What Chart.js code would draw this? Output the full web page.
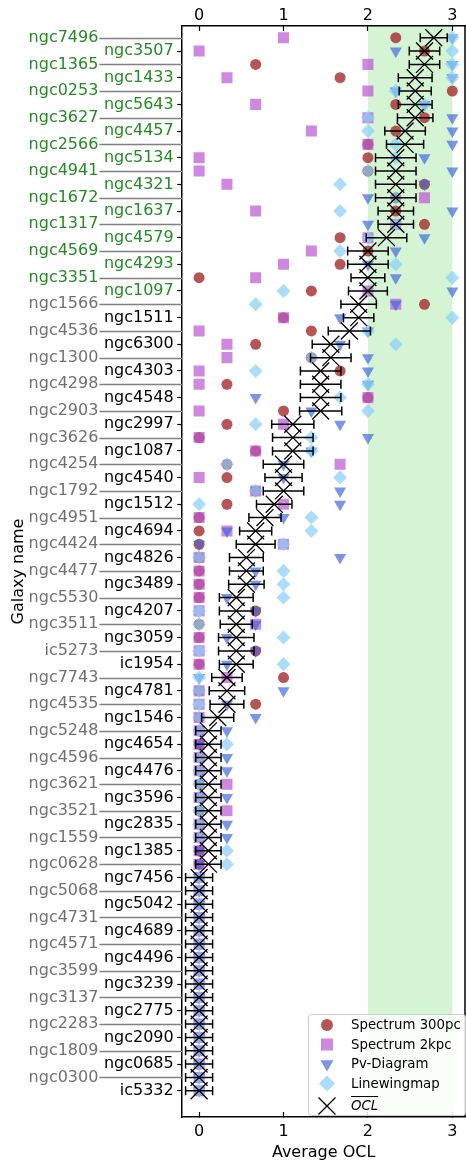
<!DOCTYPE html>
<html>
<head>
<meta charset="utf-8">
<script src="https://cdn.jsdelivr.net/npm/chart.js@4.4.1/dist/chart.umd.min.js"></script>
<style>
html, body { margin: 0; padding: 0; background: #fff; overflow: hidden; }
#wrap { width: 466px; height: 1162px; position: relative; }
canvas { display: block; }
</style>
</head>
<body>
<div id="wrap"><canvas id="oclchart"></canvas></div>
<script>
// galaxies, top to bottom (left/right label columns alternate)
const galaxies = ['ngc7496','ngc3507','ngc1365','ngc1433','ngc0253','ngc5643','ngc3627','ngc4457','ngc2566','ngc5134',
  'ngc4941','ngc4321','ngc1672','ngc1637','ngc1317','ngc4579','ngc4569','ngc4293','ngc3351','ngc1097',
  'ngc1566','ngc1511','ngc4536','ngc6300','ngc1300','ngc4303','ngc4298','ngc4548','ngc2903','ngc2997',
  'ngc3626','ngc1087','ngc4254','ngc4540','ngc1792','ngc1512','ngc4951','ngc4694','ngc4424','ngc4826',
  'ngc4477','ngc3489','ngc5530','ngc4207','ngc3511','ngc3059','ic5273','ic1954','ngc7743','ngc4781',
  'ngc4535','ngc1546','ngc5248','ngc4654','ngc4596','ngc4476','ngc3621','ngc3596','ngc3521','ngc2835',
  'ngc1559','ngc1385','ngc0628','ngc7456','ngc5068','ngc5042','ngc4731','ngc4689','ngc4571','ngc4496',
  'ngc3599','ngc3239','ngc3137','ngc2775','ngc2283','ngc2090','ngc1809','ngc0685','ngc0300','ic5332'];
const nOutflow = 20; // top rows with OCL >= 2 (green labels)

const spec300 = [2.33,2.67,0.67,1.67,3,2.33,2.67,2.33,2,2,
  2,2.67,2.33,2.33,2.67,1.67,2,1.67,0,1.33,
  2.67,1,1.33,0.67,1.33,1.67,0.33,2,1,0.33,
  0,0.67,0.33,0.33,0.67,0.33,0,0,0,0,
  0,0,0,0.67,0,0,0.67,0,1,0,
  0.67,0,0,0,0,0,0,0,0,0,
  0,0,0,0,0,0,0,0,0,0,
  0,0,0,0,0,0,0,0,0,0];
const spec2kpc = [1,0,2,0.33,2,0.67,2,1.33,2,0,
  0,0.33,2.67,0.67,2.33,2,1.33,1,0.67,2,
  2.33,1,0,0.33,0.33,0,0,2,0,1,
  0,0.67,1.67,0,0.67,1,0,0.33,1,0,
  0,0,0,0,0.67,0,0,0,0.33,0,
  0,0,0,0,0,0,0.33,0,0.33,0,
  0,0,0,0,0,0,0,0,0,0,
  0,0,0,0,0,0,0,0,0,0];
const pvDiagram = [3,2.33,3,3,2.33,2.67,3,3,3,2.67,
  3,2.67,2,3,2,2.67,2.33,2,2.33,3,
  2.33,1.67,2,1.67,2,2,2,0.67,1.33,1.67,
  2,1.33,1,1,1.67,1.67,1,0.33,0,1.67,
  0.67,0.67,0.33,0.67,0.67,0.33,0.67,0.33,0,1,
  0.33,0.67,0.33,0,0.33,0.33,0,0.33,0,0.33,
  0.33,0,0,0,0,0,0,0,0,0,
  0,0,0,0,0,0,0,0,0,0];
const lineWing = [3,3,3,3,2.33,2.67,2,2,2.33,2.33,
  2,1.67,2.33,1.67,2.33,2,1.67,2.33,3,1,
  0.67,3,2,2.33,1.33,0.67,2,1.67,2,0.67,
  1.33,1.33,0.33,1.67,0.67,0,1.33,1.33,1,0,
  1,1,1,0,0,1,0,1,0,0,
  0,0,0,0.33,0,0,0,0,0,0,
  0,0.33,0.33,0,0,0,0,0,0,0,
  0,0,0,0,0,0,0,0,0,0];
const oclMean = [2.78,2.67,2.67,2.56,2.56,2.56,2.56,2.44,2.44,2.33,
  2.33,2.33,2.33,2.33,2.33,2.22,2,2,2,2,
  1.89,1.89,1.78,1.56,1.56,1.44,1.44,1.44,1.44,1.11,
  1.11,1.11,1,1,1,0.89,0.78,0.67,0.67,0.56,
  0.56,0.56,0.44,0.44,0.44,0.44,0.44,0.44,0.33,0.33,
  0.33,0.22,0.11,0.11,0.11,0.11,0.11,0.11,0.11,0.11,
  0.11,0.11,0.11,0,0,0,0,0,0,0,
  0,0,0,0,0,0,0,0,0,0];
const oclErr = [0.16,0.18,0.18,0.2,0.19,0.2,0.21,0.24,0.22,0.24,
  0.24,0.24,0.24,0.21,0.21,0.24,0.24,0.24,0.2,0.23,
  0.21,0.18,0.25,0.22,0.24,0.24,0.24,0.24,0.25,0.25,
  0.24,0.24,0.24,0.22,0.24,0.21,0.19,0.19,0.23,0.2,
  0.2,0.21,0.2,0.2,0.19,0.21,0.21,0.2,0.18,0.21,
  0.2,0.19,0.15,0.15,0.15,0.15,0.15,0.15,0.15,0.15,
  0.15,0.15,0.15,0.16,0.16,0.16,0.16,0.16,0.16,0.16,
  0.16,0.16,0.16,0.16,0.16,0.16,0.16,0.16,0.16,0.16];
const xTicks = [0, 1, 2, 3];

const font = { family: 'DejaVu Sans', size: 16 };
Chart.defaults.font.family = 'DejaVu Sans';

const pts = arr => arr.map((v, i) => ({ x: v, y: i }));
const labelColor = (i, rightCol) => i < nOutflow ? '#228b22' : (rightCol ? '#000' : '#707070');

const errLine = [];
const errCaps = [];
oclMean.forEach((m, i) => {
  errLine.push({ x: m - oclErr[i], y: i }, { x: m + oclErr[i], y: i }, { x: null, y: null });
  errCaps.push({ x: m - oclErr[i], y: i }, { x: m + oclErr[i], y: i });
});

// fixed heights for the x axes, no side padding from their labels
const fitX = h => axis => {
  axis.height = h;
  axis.paddingLeft = 0;
  axis.paddingRight = 0;
};

// green band, frame, grey leader lines
const decor = {
  id: 'decor',
  beforeDraw(chart) {
    const { ctx, chartArea, scales } = chart;
    const x0 = scales.x.getPixelForValue(2), x1 = scales.x.getPixelForValue(3);
    ctx.save();
    ctx.fillStyle = '#d4f4d4';
    ctx.fillRect(x0, chartArea.top, x1 - x0, chartArea.bottom - chartArea.top);
    ctx.restore();
  },
  afterDraw(chart) {
    const { ctx, chartArea, scales } = chart;
    ctx.save();
    ctx.strokeStyle = '#808080';
    ctx.lineWidth = 1.5;
    galaxies.forEach((g, i) => {
      if (i % 2) return;
      const y = Math.round(scales.y.getPixelForValue(i)) + 0.5;
      ctx.beginPath();
      ctx.moveTo(scales.y2.right - 1, y);
      ctx.lineTo(chartArea.left, y);
      ctx.stroke();
    });
    ctx.strokeStyle = '#000';
    ctx.lineWidth = 1.5;
    ctx.beginPath();
    ctx.moveTo(chartArea.right, chartArea.top);
    ctx.lineTo(chartArea.right, chartArea.bottom);
    ctx.stroke();
    ctx.restore();
  }
};

// legend drawn inside the lower right corner of the axes
const legendBox = {
  id: 'legendBox',
  afterDraw(chart) {
    const { ctx, chartArea } = chart;
    const w = 158, h = 101;
    const left = chartArea.right - w + 1, top = chartArea.bottom - h - 2;
    ctx.save();
    ctx.fillStyle = 'rgba(255,255,255,0.85)';
    ctx.strokeStyle = '#cccccc';
    ctx.lineWidth = 1;
    ctx.beginPath();
    ctx.roundRect(left + 0.5, top + 0.5, w - 1, h, 3);
    ctx.fill();
    ctx.stroke();
    const order = [6, 5, 4, 3, 0];
    const sizes = [6, 8.5, 7.5, 8, 12];
    order.forEach((di, k) => {
      const ds = chart.data.datasets[di];
      const y = top + 11 + k * 19.5 + (k === 4 ? 3 : 0);
      ctx.fillStyle = ds.pointBackgroundColor;
      ctx.strokeStyle = ds.pointBorderColor;
      ctx.lineWidth = ds.pointBorderWidth;
      Chart.helpers.drawPoint(ctx, {
        pointStyle: ds.pointStyle, rotation: ds.pointRotation || 0,
        radius: sizes[k], borderWidth: ds.pointBorderWidth
      }, left + 19, y);
      ctx.fillStyle = '#000';
      ctx.textBaseline = 'middle';
      if (k === 4) {
        ctx.font = 'italic 13.3px "DejaVu Sans"';
        ctx.fillText('OCL', left + 43, y + 1);
        const tw = ctx.measureText('OCL').width;
        ctx.lineWidth = 1;
        ctx.strokeStyle = '#000';
        ctx.beginPath();
        ctx.moveTo(left + 43, y - 9.5);
        ctx.lineTo(left + 43 + tw, y - 9.5);
        ctx.stroke();
      } else {
        ctx.font = '13.3px "DejaVu Sans"';
        ctx.fillText(ds.label, left + 43, y + 1);
      }
    });
    ctx.restore();
  }
};

const ctxgraph = document.getElementById('oclchart').getContext('2d');
const oclChart = new Chart(ctxgraph, {
  type: 'scatter',
  data: {
    datasets: [
      { label: 'OCL', data: pts(oclMean), pointStyle: 'crossRot', pointRadius: 12,
        pointBackgroundColor: '#000', pointBorderColor: '#000', pointBorderWidth: 1.3 },
      { label: 'caps', data: errCaps, pointStyle: 'line', pointRotation: 90, pointRadius: 4.5,
        pointBackgroundColor: '#000', pointBorderColor: '#000', pointBorderWidth: 1.5 },
      { label: 'bars', data: errLine, showLine: true, spanGaps: false, pointRadius: 0,
        borderColor: '#000', borderWidth: 1.5 },
      { label: 'Linewingmap', data: pts(lineWing), pointStyle: 'rectRot', pointRadius: 7,
        pointBackgroundColor: 'rgba(135,206,250,0.7)', pointBorderColor: 'rgba(135,206,250,0.7)', pointBorderWidth: 0 },
      { label: 'Pv-Diagram', data: pts(pvDiagram), pointStyle: 'triangle', pointRotation: 180, pointRadius: 7,
        pointBackgroundColor: 'rgba(65,105,225,0.7)', pointBorderColor: 'rgba(65,105,225,0.7)', pointBorderWidth: 0 },
      { label: 'Spectrum 2kpc', data: pts(spec2kpc), pointStyle: 'rect', pointRadius: 7.8,
        pointBackgroundColor: 'rgba(186,85,211,0.7)', pointBorderColor: 'rgba(186,85,211,0.7)', pointBorderWidth: 0 },
      { label: 'Spectrum 300pc', data: pts(spec300), pointStyle: 'circle', pointRadius: 5.5,
        pointBackgroundColor: 'rgba(165,42,42,0.8)', pointBorderColor: 'rgba(165,42,42,0.8)', pointBorderWidth: 0 }
    ]
  },
  options: {
    responsive: true,
    maintainAspectRatio: false,
    animation: false,
    events: [],
    layout: { autoPadding: false, padding: { left: 6, right: 1, top: 0, bottom: 0 } },
    plugins: { legend: { display: false }, tooltip: { enabled: false } },
    scales: {
      x: {
        type: 'linear', position: 'bottom', min: -0.2, max: 3.15,
        afterBuildTicks: axis => { axis.ticks = xTicks.map(v => ({ value: v })); },
        afterFit: fitX(45),
        ticks: { font, color: '#000', padding: 10 },
        grid: { drawOnChartArea: false, tickLength: -5, tickColor: '#000', tickWidth: 1.2 },
        border: { color: '#000', width: 1.5 },
        title: { display: true, text: 'Average OCL', font, color: '#000', padding: { top: 0, bottom: 0 } }
      },
      x2: {
        type: 'linear', position: 'top', min: -0.2, max: 3.15,
        afterBuildTicks: axis => { axis.ticks = xTicks.map(v => ({ value: v })); },
        afterFit: fitX(26),
        ticks: { font, color: '#000', padding: 6 },
        grid: { drawOnChartArea: false, tickLength: -5, tickColor: '#000', tickWidth: 1.2 },
        border: { color: '#000', width: 1.5 }
      },
      y: {
        type: 'linear', position: 'left', reverse: true, min: -0.88, max: 80.97, weight: 0,
        afterBuildTicks: axis => { axis.ticks = galaxies.map((g, i) => ({ value: i })); },
        ticks: {
          font, autoSkip: false, padding: 3.5,
          color: c => labelColor(c.tick.value, true),
          callback: v => (v % 2 ? galaxies[v] : '')
        },
        grid: {
          drawOnChartArea: false, tickLength: 5, tickWidth: 1.2,
          tickColor: c => (c.tick && c.tick.value % 2 ? '#000' : 'rgba(0,0,0,0)')
        },
        border: { color: '#000', width: 1.5 }
      },
      y2: {
        type: 'linear', position: 'left', reverse: true, min: -0.88, max: 80.97, weight: 1,
        afterBuildTicks: axis => { axis.ticks = galaxies.map((g, i) => ({ value: i })); },
        ticks: {
          font, autoSkip: false, padding: 2,
          color: c => labelColor(c.tick.value, false),
          callback: v => (v % 2 ? '' : galaxies[v])
        },
        grid: { display: false, drawTicks: false },
        border: { display: false },
        title: { display: true, text: 'Galaxy name', font, color: '#000', padding: { top: 3.4, bottom: -2 } }
      }
    }
  },
  plugins: [decor, legendBox]
});
</script>
</body>
</html>
